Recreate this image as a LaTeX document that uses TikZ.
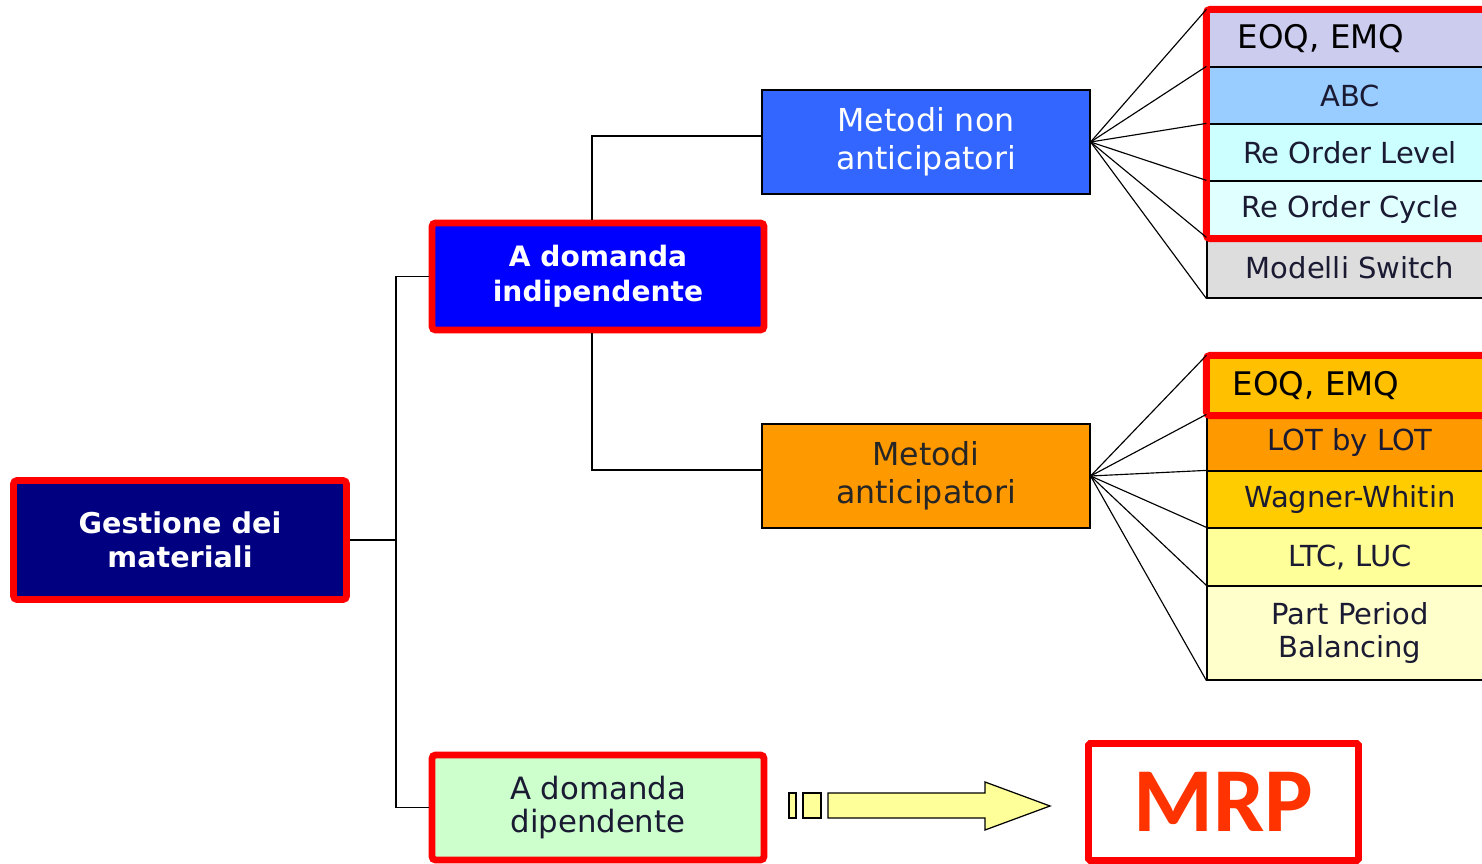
\documentclass[tikz,border=0pt]{standalone}
\usepackage{fontspec}
\setmainfont{DejaVu Sans}
\newfontfamily\mrpfont{Carlito}
\usetikzlibrary{fit}

\definecolor{navyfill}{HTML}{000080}
\definecolor{bluefill}{HTML}{0000FF}
\definecolor{nonantfill}{HTML}{3366FF}
\definecolor{antfill}{HTML}{FF9900}
\definecolor{depfill}{HTML}{CCFFCC}
\definecolor{eoqa}{HTML}{CCCCEE}
\definecolor{abcfill}{HTML}{99CCFF}
\definecolor{rolfill}{HTML}{CCFFFF}
\definecolor{rocfill}{HTML}{E0FFFF}
\definecolor{swfill}{HTML}{DDDDDD}
\definecolor{eoqb}{HTML}{FFC000}
\definecolor{lotfill}{HTML}{FF9900}
\definecolor{wwfill}{HTML}{FFCC00}
\definecolor{ltcfill}{HTML}{FFFF99}
\definecolor{ppbfill}{HTML}{FFFFCC}
\definecolor{arrowfill}{HTML}{FFFF99}
\definecolor{hlred}{HTML}{FF0000}
\definecolor{mrptext}{HTML}{FF3300}
\definecolor{celltext}{HTML}{1A1A33}

\tikzset{
  hl/.style={draw=hlred, line width=3.9pt, rounded corners=2pt},
  mainbox/.style={hl, minimum width=6.64cm, align=center, inner sep=0pt},
  methbox/.style={draw=black, line width=0.7pt, minimum width=6.56cm, minimum height=2.08cm, align=center, inner sep=0pt,
                  font=\fontsize{18}{21.5}\selectfont},
  cell/.style={draw=black, line width=0.7pt, minimum width=5.72cm, inner sep=0pt, align=center,
               text=celltext, font=\fontsize{16.5}{19}\selectfont},
  bigcell/.style={cell, text=black, font=\fontsize{18.5}{20}\selectfont},
  link/.style={draw=black, line width=0.8pt},
  fan/.style={draw=black, line width=0.65pt},
}

\begin{document}
\begin{tikzpicture}[x=0.02cm,y=-0.02cm]
\useasboundingbox (0,0) rectangle (1482,864);

% root and first level
\node[mainbox, fill=navyfill, minimum width=6.66cm, minimum height=2.38cm, text=white,
      font=\bfseries\fontsize{16.3}{19.5}\selectfont] (gest) at (180,540) {Gestione dei\\materiali};
\node[mainbox, fill=bluefill, minimum height=2.14cm, text=white,
      font=\bfseries\fontsize{16}{20}\selectfont] (indip) at (598,276.5) {A domanda\\indipendente};
\node[mainbox, fill=depfill, minimum height=2.1cm, text=celltext,
      font=\fontsize{17.5}{19}\selectfont] (dip) at (598,807.5) {A domanda\\dipendente};

% second level
\node[methbox, fill=nonantfill, text=white] (mna) at (926,142) {Metodi non\\anticipatori};
\node[methbox, fill=antfill, text=black!85] (ma) at (926,476) {Metodi\\anticipatori};

% tree connectors
\coordinate (bus) at (396,540);
\draw[link] (gest.east) -- (bus);
\draw[link] (indip.west) -| (bus);
\draw[link] (dip.west) -| (bus);
\draw[link] ([yshift=0.12cm]mna.west) -| ([xshift=-0.12cm]indip.north);
\draw[link] ([yshift=0.12cm]ma.west) -| ([xshift=-0.12cm]indip.south);

% non-anticipatory methods list
\node[bigcell, fill=eoqa, minimum height=1.14cm, text width=4.5cm, align=left] (a1) at (1350,38.5) {EOQ, EMQ};
\node[cell, fill=abcfill, minimum height=1.14cm] (a2) at (1350,95.5) {ABC};
\node[cell, fill=rolfill, minimum height=1.14cm] (a3) at (1350,152.5) {Re Order Level};
\node[cell, fill=rocfill, minimum height=1.14cm] (a4) at (1350,209.5) {Re Order Cycle};
\node[cell, fill=swfill, minimum height=1.2cm] (a5) at (1350,268) {Modelli Switch};
\node[hl, fit=(a1)(a4), inner sep=0pt] (hla) {};

% anticipatory methods list
\node[bigcell, fill=eoqb, minimum height=1.18cm, text width=4.7cm, align=left] (b1) at (1350,385.5) {EOQ, EMQ};
\node[cell, fill=lotfill, minimum height=1.12cm] (b2) at (1350,443) {LOT by LOT};
\node[cell, fill=wwfill, minimum height=1.14cm] (b3) at (1350,499.5) {Wagner-Whitin};
\node[cell, fill=ltcfill, minimum height=1.16cm] (b4) at (1350,557) {LTC, LUC};
\node[cell, fill=ppbfill, minimum height=1.88cm] (b5) at (1350,633) {Part Period\\Balancing};
\node[hl, fit=(b1), inner sep=0pt] (hlb) {};

% fan connectors
\foreach \r in {a1,a2,a3,a4,a5} \draw[fan] (mna.east) -- (\r.north west);
\draw[fan] (mna.east) -- (a5.south west);
\foreach \r in {b1,b2,b3,b4,b5} \draw[fan] (ma.east) -- (\r.north west);
\draw[fan] (ma.east) -- (b5.south west);

% block arrow towards MRP
\draw[fill=arrowfill, line width=0.7pt] (789,793) rectangle (796,818);
\draw[fill=arrowfill, line width=0.7pt] (803,793) rectangle (821,818);
\draw[fill=arrowfill, line width=0.7pt, line join=miter]
  (828,793) -- (985,793) -- (985,782) -- (1050,806) -- (985,830) -- (985,818) -- (828,818) -- cycle;

% MRP box
\node[hl, rounded corners=1pt, fill=white, minimum width=5.4cm, minimum height=2.34cm, text=mrptext,
      font=\mrpfont\bfseries\fontsize{52}{52}\selectfont] (mrp) at (1223.5,802) {MRP};
\end{tikzpicture}
\end{document}
